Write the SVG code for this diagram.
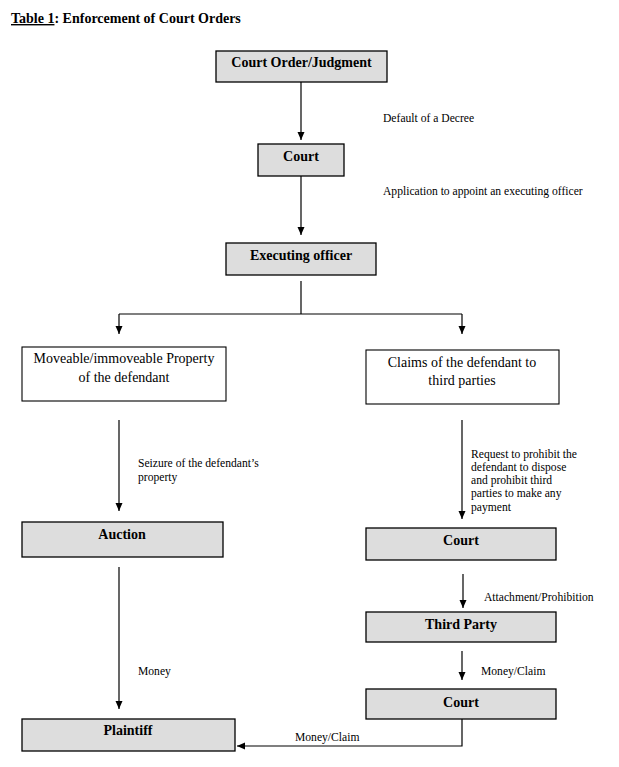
<svg xmlns="http://www.w3.org/2000/svg" width="619" height="767" viewBox="0 0 619 767">
<defs>
<marker id="ah" markerWidth="8" markerHeight="8" refX="8" refY="3.5" orient="auto" markerUnits="userSpaceOnUse">
<path d="M0,0 L8,3.5 L0,7 Z" fill="#000"/>
</marker>
<style>
.g{fill:#dddddd;stroke:#000;stroke-width:1.3}
.w{fill:#fff;stroke:#000;stroke-width:1.1}
.t{font-family:"Liberation Serif",serif;font-size:14px;font-weight:bold;fill:#000;text-anchor:middle}
.n{font-family:"Liberation Serif",serif;font-size:14px;fill:#000;text-anchor:middle}
.l{font-family:"Liberation Serif",serif;font-size:11.6px;fill:#000}
.c{fill:none;stroke:#000;stroke-width:1.2}
</style>
</defs>
<rect width="619" height="767" fill="#fff"/>
<text x="11" y="23" font-family="Liberation Serif,serif" font-size="14" font-weight="bold"><tspan text-decoration="underline">Table 1</tspan>: Enforcement of Court Orders</text>

<g id="connectors">
<path class="c" d="M301,82 V140" marker-end="url(#ah)"/>
<path class="c" d="M301,176 V235" marker-end="url(#ah)"/>
<path class="c" d="M301,281 V314"/>
<path class="c" d="M119,314 H462"/>
<path class="c" d="M119,314 V334" marker-end="url(#ah)"/>
<path class="c" d="M462,314 V334" marker-end="url(#ah)"/>
<path class="c" d="M119,420 V511" marker-end="url(#ah)"/>
<path class="c" d="M462,420 V519" marker-end="url(#ah)"/>
<path class="c" d="M463,574 V608" marker-end="url(#ah)"/>
<path class="c" d="M462,651 V680" marker-end="url(#ah)"/>
<path class="c" d="M119,567 V709" marker-end="url(#ah)"/>
<path class="c" d="M462,719 V746 H237" marker-end="url(#ah)"/>
<text class="l" x="383" y="122">Default of a Decree</text>
<text class="l" x="383" y="195">Application to appoint an executing officer</text>
<text class="l" x="138" y="467">Seizure of the defendant’s</text>
<text class="l" x="138" y="481">property</text>
<text class="l" x="471" y="458">Request to prohibit the</text>
<text class="l" x="471" y="471">defendant to dispose</text>
<text class="l" x="471" y="484">and prohibit third</text>
<text class="l" x="471" y="497">parties to make any</text>
<text class="l" x="471" y="511">payment</text>
<text class="l" x="484" y="601">Attachment/Prohibition</text>
<text class="l" x="481" y="675">Money/Claim</text>
<text class="l" x="138" y="675">Money</text>
<text class="l" x="295" y="741">Money/Claim</text>
</g>

<g id="court-order"><rect class="g" x="216" y="51" width="171" height="31"/><text class="t" x="301.5" y="67">Court Order/Judgment</text></g>
<g id="court1"><rect class="g" x="258" y="144" width="86" height="32"/><text class="t" x="301" y="161">Court</text></g>
<g id="executing-officer"><rect class="g" x="226" y="243" width="150" height="32"/><text class="t" x="301" y="260">Executing officer</text></g>
<g id="property"><rect class="w" x="22" y="347" width="204" height="54"/><text class="n" x="124" y="363">Moveable/immoveable Property</text><text class="n" x="124" y="382">of the defendant</text></g>
<g id="claims"><rect class="w" x="366" y="350" width="193" height="54"/><text class="n" x="462" y="367">Claims of the defendant to</text><text class="n" x="462" y="385">third parties</text></g>
<g id="auction"><rect class="g" x="22" y="522" width="201" height="35"/><text class="t" x="122" y="539">Auction</text></g>
<g id="court2"><rect class="g" x="366" y="528" width="190" height="32"/><text class="t" x="461" y="545">Court</text></g>
<g id="third-party"><rect class="g" x="366" y="612" width="190" height="30"/><text class="t" x="461" y="629">Third Party</text></g>
<g id="court3"><rect class="g" x="366" y="689" width="190" height="30"/><text class="t" x="461" y="707" font-size="15">Court</text></g>
<g id="plaintiff"><rect class="g" x="22" y="719" width="213" height="32"/><text class="t" x="128" y="735">Plaintiff</text></g>
</svg>
